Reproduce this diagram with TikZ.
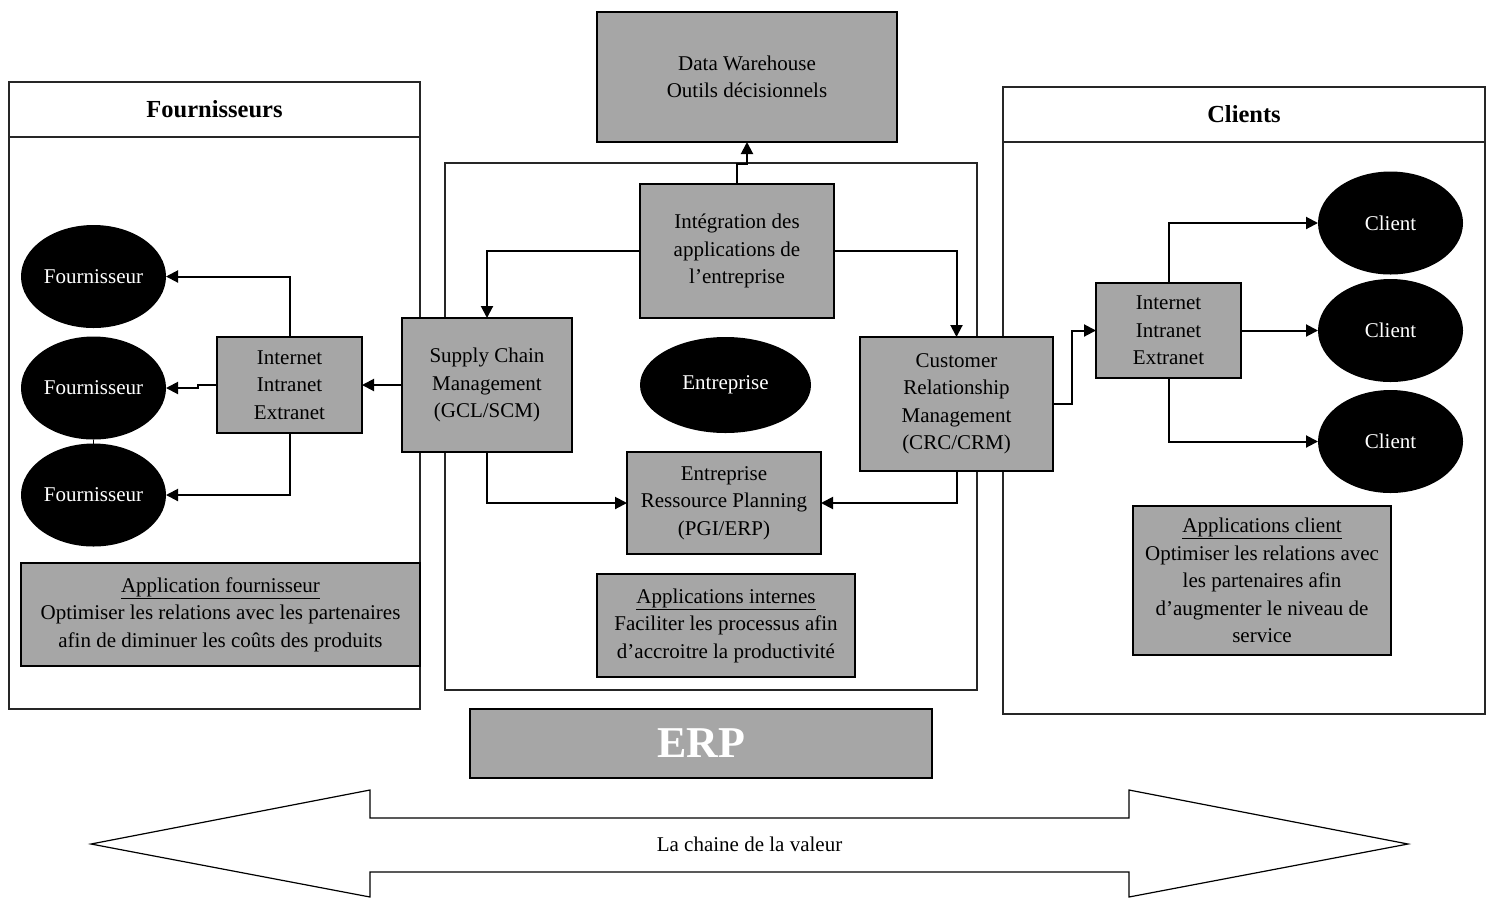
\documentclass[tikz,border=0pt]{standalone}
\usepackage{fontspec}
\setmainfont{Liberation Serif}
\usepackage{xcolor}
\definecolor{boxgray}{RGB}{166,166,166}
\usepackage{tikz}
\usetikzlibrary{arrows.meta}
\usetikzlibrary{shapes.geometric}
\newcommand{\txt}{\fontsize{21}{27.5}\selectfont}
\newcommand{\widthnet}{145pt}
\newcommand{\widthblob}{145pt}
\newcommand{\heightblob}{103pt}
\tikzset{
    common/.style={draw, rectangle, inner sep=0pt, outer sep=0pt, line width=1.2pt, align=center, font=\txt},
    box/.style={common, fill=boxgray},
    net/.style={box, minimum width=\widthnet, minimum height=96pt},
    blob/.style={ellipse, fill=black, text=white, inner sep=0pt, outer sep=0pt, font=\txt, minimum width=\widthblob, minimum height=\heightblob},
    frame/.style={line width=1.2pt, black!85},
    heading/.style={font=\fontsize{24.5}{28}\selectfont\bfseries},
    arr/.style={-{Triangle[length=12pt,width=12pt]}, line width=2pt}
}

\begin{document}
\begin{tikzpicture}[x=1pt, y=-1pt]
        \useasboundingbox (0,0) rectangle (1490,898);

        % frames
        \draw[frame] (9,82) rectangle (420,709) (9,137) -- (420,137);
        \draw[frame] (1003,87) rectangle (1485,714) (1003,142) -- (1485,142);
        \draw[frame] (445,163) rectangle (977,690);
        \node[heading] (titleF) at (214.5,109.5) {Fournisseurs};
        \node[heading] (titleC) at (1244,114.5) {Clients};

        % fournisseurs
        \node[blob] (F1) at (93.5,276.5) {Fournisseur};
        \node[blob] (F2) at (93.5,388) {Fournisseur};
        \node[blob] (F3) at (93.5,495) {Fournisseur};
        \node[net] (netF) at (289.5,385) {Internet\\Intranet\\Extranet};
        \node[box, minimum width=399pt, minimum height=103pt] (appF) at (220.5,614.5)
            {\underline{Application fournisseur}\\Optimiser les relations avec les partenaires\\afin de diminuer les coûts des produits};

        % entreprise
        \node[box, minimum width=300pt, minimum height=130pt] (DW) at (747,77) {Data Warehouse\\Outils décisionnels};
        \node[box, minimum width=194pt, minimum height=134pt] (integ) at (737,251) {Intégration des\\applications de\\l’entreprise};
        \node[box, minimum width=170pt, minimum height=134pt] (SCM) at (487,385) {Supply Chain\\Management\\(GCL/SCM)};
        \node[box, minimum width=193pt, minimum height=134pt] (CRM) at (956.5,404) {Customer\\Relationship\\Management\\(CRC/CRM)};
        \node[blob, minimum width=171pt, minimum height=96pt] (ent) at (725.5,385) {Entreprise};
        \node[box, minimum width=194pt, minimum height=102pt] (PGI) at (724,503) {Entreprise\\Ressource Planning\\(PGI/ERP)};
        \node[box, minimum width=258pt, minimum height=103pt] (appI) at (726,625.5)
            {\underline{Applications internes}\\Faciliter les processus afin\\d’accroitre la productivité};

        % clients
        \node[net, minimum height=95pt] (netC) at (1168.5,330.5) {Internet\\Intranet\\Extranet};
        \node[blob] (C1) at (1390.5,223) {Client};
        \node[blob] (C2) at (1390.5,330.5) {Client};
        \node[blob] (C3) at (1390.5,441.5) {Client};
        \node[box, minimum width=258pt, minimum height=149pt] (appC) at (1262,580.5)
            {\underline{Applications client}\\Optimiser les relations avec\\les partenaires afin\\d’augmenter le niveau de\\service};

        % ERP
        \node[box, minimum width=462pt, minimum height=69pt, text=white, font=\fontsize{44}{48}\selectfont\bfseries] (ERP) at (701,743.5) {ERP};

        \draw[arr]
          (integ.north) -- ++(0,-20) -| (DW.south);
        \draw[arr]
          (integ.west) -| (SCM.north);
        \draw[arr]
          (integ.east) -| (CRM.north);
        \draw[arr]
          (SCM.south) |- (PGI.west);
        \draw[arr]
          (CRM.south) |- (PGI.east);
        \draw[arr]
          (SCM.west) -- (netF.east);
        \draw[arr]
          (netF.north) |- (F1.east);
        \draw[arr]
          (netF.west) -- ++(-19,0) |- (F2.east);
        \draw[arr]
          (netF.south) |- (F3.east);
        \draw[line width=1.2pt] (F2.south) -- (F3.north);
        \draw[arr]
          (CRM.east) -- ++(19,0) |- (netC.west);
        \draw[arr]
          (netC.north) |- (C1.west);
        \draw[arr]
          (netC.east) -- (C2.west);
        \draw[arr]
          (netC.south) |- (C3.west);

        % chaine de la valeur
        \draw[line width=1.2pt]
          (91,844) -- (370,790) -- (370,818) -- (1129,818) -- (1129,790) -- (1408,844)
          -- (1129,897) -- (1129,872) -- (370,872) -- (370,897) -- cycle;
        \node[font=\txt] (valeur) at (749.5,844) {La chaine de la valeur};

    \end{tikzpicture}
\end{document}
